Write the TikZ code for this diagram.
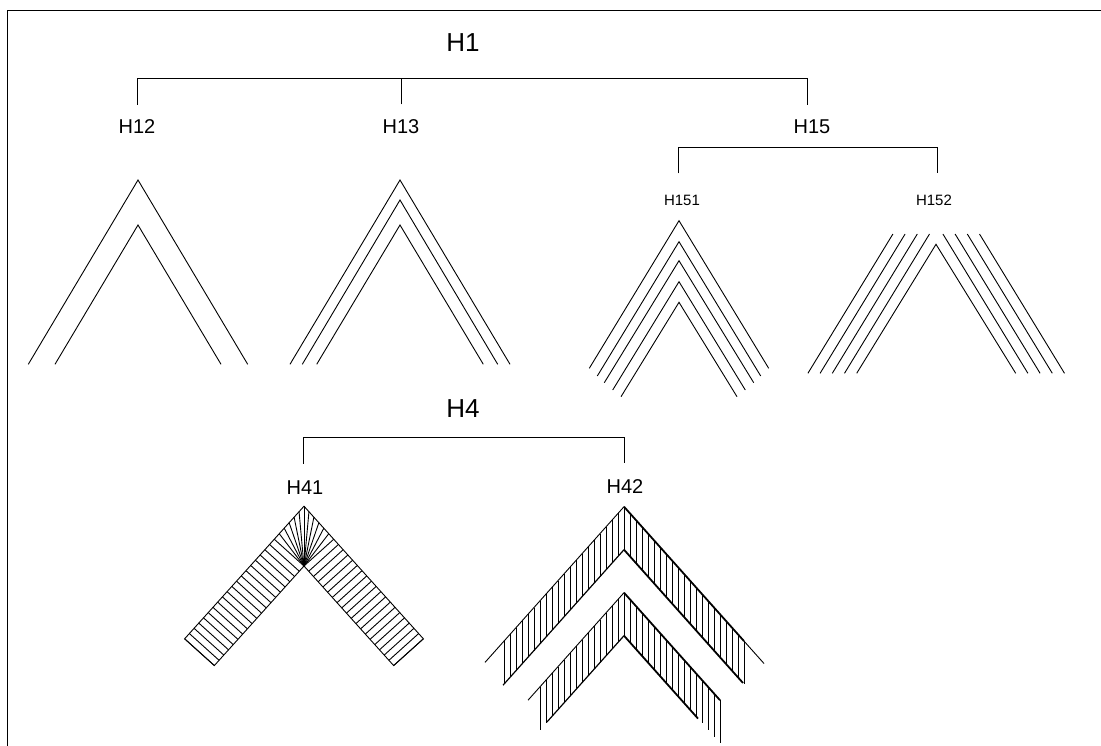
\documentclass[tikz,border=0pt]{standalone}
\usepackage{fontspec}
\setmainfont{Liberation Sans}
\usetikzlibrary{calc}

\begin{document}
\begin{tikzpicture}[x=1pt,y=-1pt,line width=0.9pt,
    lbl/.style={inner sep=0pt,font=\fontsize{20}{24}\selectfont},
    biglbl/.style={inner sep=0pt,font=\fontsize{26}{31}\selectfont},
    smalllbl/.style={inner sep=0pt,font=\fontsize{15}{18}\selectfont},
    thickline/.style={line width=1.8pt},
    midline/.style={line width=1.2pt}]
    \useasboundingbox (0,0) rectangle (1101,746);
    % Marco
    \draw (7,746) -- (7,10) -- (1101,10);
    % Etiquetas
    \node[biglbl] (h1) at (463,43) {H1};
    \node[lbl] (h12) at (137,127) {H12};
    \node[lbl] (h13) at (401,127) {H13};
    \node[lbl] (h15) at (812,127) {H15};
    \node[smalllbl] (h151) at (682,200) {H151};
    \node[smalllbl] (h152) at (934,200) {H152};
    \node[biglbl] (h4) at (463,409) {H4};
    \node[lbl] (h41) at (305,488) {H41};
    \node[lbl] (h42) at (625,487) {H42};
    % Llaves
    \draw ([yshift=15pt]h12.north) -- ++(0,-26) -| ([xshift=-5pt,yshift=15pt]h15.north);
    \draw ([yshift=15pt]h13.north) -- ++(0,-26);
    \draw ([xshift=-4pt,yshift=21pt]h151.north) -- ++(0,-26) -| ([xshift=3pt,yshift=21pt]h152.north);
    \draw ([xshift=-2pt,yshift=17pt]h41.north) -- ++(0,-26) -| ([xshift=-1pt,yshift=17pt]h42.north);
    % H12
    \draw (28.3,364.3) -- (138,180) -- (247.7,364.3);
    \draw (55,364.3) -- (138,225) -- (221,364.3);
    % H13
    \draw (290,364.3) -- (400,180) -- (510,364.3);
    \draw (302.3,364.3) -- (400,200) -- (497.7,364.3);
    \draw (316.7,364.3) -- (400,225) -- (483.3,364.3);
    % H151
    \foreach \ay/\ex/\ey in {220.7/89.7/368.3, 241.7/81.7/376, 260.7/74.7/382.7, 281.7/66.3/390, 302.3/58/396.7}
        \draw (679-\ex,\ey) -- (679,\ay) -- (679+\ex,\ey);
    % H152
    \draw (856.7,373.3) -- (936,244.3) -- (1015.7,373.3);
    \foreach \k in {1,...,4} {
        \draw (856.7-12.2*\k,373.3) -- (941.7-12.2*\k,234);
        \draw (1015.7+12.2*\k,373.3) -- (930.7+12.2*\k,234);
    }
    % H41
    \coordinate (o41) at (304,506.2);
    \coordinate (i41) at (304,566);
    \draw ($(i41)+(132:134)$) -- (i41) -- ($(i41)+(48:134)$) -- ++(318:40) -- (o41)
        -- ($(i41)+(132:134)+(222:40)$) -- cycle;
    \foreach \t in {0,...,19} {
        \pgfmathsetmacro\r{\t*7.05}
        \draw ($(i41)+(132:\r)$) -- ++(222:40);
        \draw ($(i41)+(48:\r)$) -- ++(318:40);
    }
    \foreach \k in {0,...,5} {
        \pgfmathsetmacro\r{\k*7.4}
        \draw (i41) -- ($(o41)+(132:\r)$);
        \draw (i41) -- ($(o41)+(48:\r)$);
    }
    % H42
    \foreach \ya/\nl/\nr/\ul/\ur/\ll/\lr in {506.7/20/20/139/140/121/119, 592.7/14/16/96/96/77/74} {
        \draw (624-\ul,\ya+1.12*\ul) -- (624,\ya);
        \draw[thickline] (624,\ya) -- (624+6*\nr,\ya+6.72*\nr);
        \draw (624+6*\nr,\ya+6.72*\nr) -- (624+\ur,\ya+1.12*\ur);
        \draw[midline] (624-\ll,\ya+43+1.12*\ll) -- (624,\ya+43);
        \draw[thickline] (624,\ya+43) -- (624+\lr,\ya+43+1.12*\lr);
        \foreach \k in {0,...,\nl} \draw (624-6*\k,\ya+6.72*\k) -- ++(0,43);
        \foreach \k in {0,...,\nr} \draw (624+6*\k,\ya+6.72*\k) -- ++(0,43);
    }
\end{tikzpicture}
\end{document}
